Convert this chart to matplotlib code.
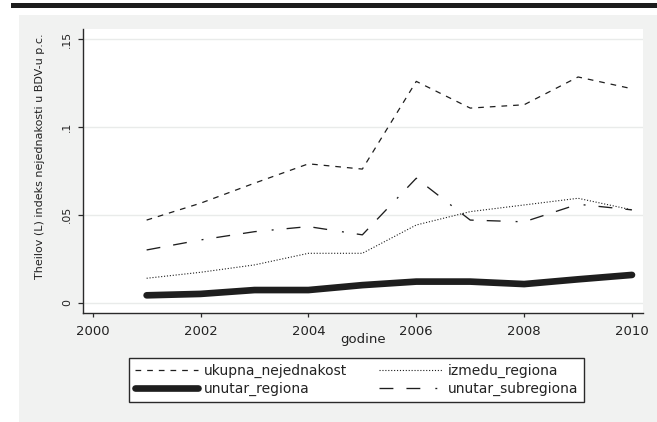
import matplotlib
matplotlib.use("Agg")
import matplotlib.pyplot as plt
from matplotlib.patches import Rectangle

plt.rcParams['font.family'] = ['DejaVu Sans']
plt.rcParams['lines.scale_dashes'] = False

# ---- data ----
years = [2001, 2002, 2003, 2004, 2005, 2006, 2007, 2008, 2009, 2010]
ukupna_nejednakost = [0.047, 0.0566, 0.068, 0.079, 0.076, 0.1259, 0.1107, 0.1126, 0.1284, 0.1217]
izmedu_regiona = [0.0139, 0.0173, 0.0215, 0.0281, 0.0281, 0.0442, 0.0518, 0.0556, 0.0594, 0.0528]
unutar_regiona = [0.0042, 0.005, 0.0072, 0.0072, 0.010, 0.012, 0.012, 0.0106, 0.0133, 0.0158]
unutar_subregiona = [0.030, 0.0357, 0.0404, 0.0433, 0.0386, 0.0708, 0.047, 0.046, 0.056, 0.0528]

xticks = [2000, 2002, 2004, 2006, 2008, 2010]
xtick_labels = ["2000", "2002", "2004", "2006", "2008", "2010"]
yticks = [0, 0.05, 0.1, 0.15]
ytick_labels = ["0", ".05", ".1", ".15"]
x_label = "godine"
y_label = "Theilov (L) indeks nejednakosti u BDV-u p.c."
legend_labels = ["ukupna_nejednakost", "izmedu_regiona", "unutar_regiona", "unutar_subregiona"]

W, H = 657, 422
fig = plt.figure(figsize=(W / 100, H / 100), dpi=100)
fig.patch.set_facecolor('white')

def fx(px):
    return px / W

def fy(py):
    return 1 - py / H

# gray graph region and black top bar
fig.patches.append(Rectangle((fx(19), 0), 1 - fx(19), fy(15), transform=fig.transFigure,
                             facecolor='#f1f2f1', edgecolor='none', zorder=-5))
fig.patches.append(Rectangle((fx(11), fy(7.6)), 1 - fx(11), fy(2.7) - fy(7.6), transform=fig.transFigure,
                             facecolor='#1c1c1c', edgecolor='none', zorder=-4))

ax_l, ax_r, ax_t, ax_b = 82.7, 643, 29, 312.7
ax = fig.add_axes([fx(ax_l), fy(ax_b), fx(ax_r - ax_l), (ax_b - ax_t) / H])
ax.set_facecolor('white')

px_per_year = (632 - 92.7) / 10
ax.set_xlim(2000 - (92.7 - ax_l) / px_per_year, 2010 + (ax_r - 632) / px_per_year)
px_per_unit = (302.7 - 39) / 0.15
ax.set_ylim(-(ax_b - 302.7) / px_per_unit, 0.15 + (39 - ax_t) / px_per_unit)

col = '#1e1e1e'
l1, = ax.plot(years, ukupna_nejednakost, color=col, lw=0.9, dashes=(4.1, 4.3))
l2, = ax.plot(years, izmedu_regiona, color=col, lw=0.8, dashes=(0.8, 1.3))
l3, = ax.plot(years, unutar_regiona, color=col, lw=4.8, solid_capstyle='round')
l4, = ax.plot(years, unutar_subregiona, color=col, lw=0.95, dashes=(10, 9.4, 10, 10.8, 1.4, 9.4))

for y in yticks:
    ax.axhline(y, color='#e9ebea', lw=1.0, zorder=0)

for s in ['top', 'right']:
    ax.spines[s].set_visible(False)
for s in ['left', 'bottom']:
    ax.spines[s].set_color('#2a2a2a')
    ax.spines[s].set_linewidth(1.0)

ax.set_xticks(xticks)
ax.set_xticklabels(xtick_labels, fontsize=9.5, color='#222222')
ax.set_yticks(yticks)
ax.set_yticklabels(ytick_labels, fontsize=7.8, rotation=90, va='center', color='#222222')
ax.tick_params(axis='x', length=3.1, width=0.9, color='#2a2a2a', pad=5.8)
ax.tick_params(axis='y', length=3.8, width=0.9, color='#2a2a2a', pad=4.0)

ax.set_xlabel(x_label, fontsize=9.5, color='#222222', va='center')
ax.xaxis.set_label_coords(0.5, (ax_b - 339.5) / (ax_b - ax_t))
ax.set_ylabel(y_label, fontsize=8.0, color='#222222', va='center')
ax.yaxis.set_label_coords((39.8 - ax_l) / (ax_r - ax_l), (ax_b - 156.5) / (ax_b - ax_t))

fs = 10.0
em = fs * 100 / 72
leg = fig.legend([l1, l3, l2, l4],
                 [legend_labels[0], legend_labels[2], legend_labels[1], legend_labels[3]],
                 ncol=2, loc='upper left',
                 bbox_to_anchor=(fx(129.3), fy(358.3)),
                 bbox_transform=fig.transFigure,
                 fontsize=fs, handlelength=63 / em, handletextpad=6 / em,
                 columnspacing=32 / em,
                 borderpad=5.5 / em, labelspacing=0.3, borderaxespad=0.0,
                 frameon=True, fancybox=False, edgecolor='#2a2a2a', facecolor='white',
                 framealpha=1.0)
leg.get_frame().set_linewidth(1.0)
for t in leg.get_texts():
    t.set_color('#222222')

fig.savefig('out.png', dpi=100)
